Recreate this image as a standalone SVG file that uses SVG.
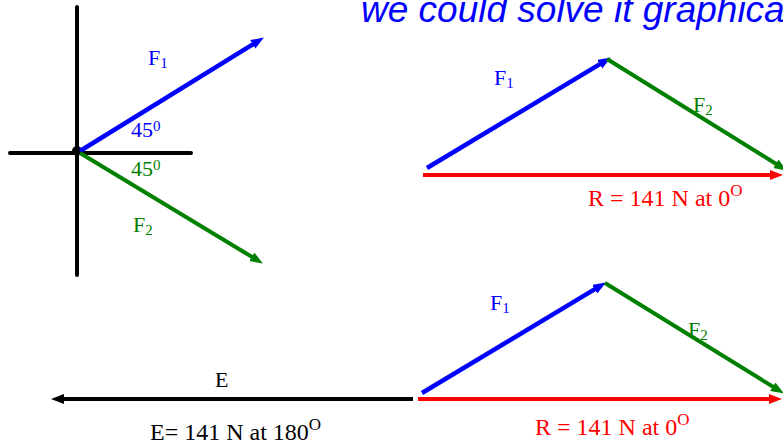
<svg xmlns="http://www.w3.org/2000/svg" width="783" height="445" viewBox="0 0 783 445">
<style>
.t{font-family:"Liberation Serif","Times New Roman",serif;font-size:22px}
.L{font-size:24px}
.s{font-size:15px}
.u{font-size:17px}
.b{fill:#0000ff}.g{fill:#008000}.r{fill:#ff0000}.k{fill:#000}
.ln{fill:none;stroke-linecap:butt}
</style>
<defs>
<marker id="mb" markerUnits="userSpaceOnUse" markerWidth="14" markerHeight="12" refX="6" refY="5" orient="auto"><path d="M0,0 L13,5 L0,10 z" fill="#0000ff"/></marker>
<marker id="mg" markerUnits="userSpaceOnUse" markerWidth="14" markerHeight="12" refX="6" refY="5" orient="auto"><path d="M0,0 L13,5 L0,10 z" fill="#008000"/></marker>
<marker id="mr" markerUnits="userSpaceOnUse" markerWidth="14" markerHeight="12" refX="6" refY="5" orient="auto"><path d="M0,0 L13,5 L0,10 z" fill="#ff0000"/></marker>
<marker id="mk" markerUnits="userSpaceOnUse" markerWidth="14" markerHeight="12" refX="6" refY="5" orient="auto"><path d="M0,0 L13,5 L0,10 z" fill="#000"/></marker>
</defs>
<rect width="783" height="445" fill="#fff"/>
<text x="361" y="22" font-family="Liberation Sans, Arial, sans-serif" font-style="italic" font-size="37" fill="#0000ff">we could solve it graphica</text>

<g id="axes">
<line x1="77" y1="7" x2="77" y2="275" stroke="#000" stroke-width="4" stroke-linecap="round"/>
<line x1="10" y1="153" x2="191" y2="153" stroke="#000" stroke-width="4" stroke-linecap="round"/>
<circle cx="77" cy="151" r="5" fill="#000"/>
</g>

<g id="connectors">
<line class="ln" x1="80" y1="151" x2="257.9" y2="41.2" stroke="#0000ff" stroke-width="4.5" marker-end="url(#mb)"/>
<line class="ln" x1="80" y1="153" x2="256.9" y2="259.9" stroke="#008000" stroke-width="4" marker-end="url(#mg)"/>

<line class="ln" x1="423" y1="175" x2="776" y2="175" stroke="#ff0000" stroke-width="4" marker-end="url(#mr)" stroke-linecap="round"/>
<line class="ln" x1="427" y1="168" x2="604.9" y2="61.1" stroke="#0000ff" stroke-width="4.5" marker-end="url(#mb)" stroke-linecap="round"/>
<line class="ln" x1="607" y1="59" x2="781" y2="167" stroke="#008000" stroke-width="4" marker-end="url(#mg)"/>

<line class="ln" x1="413" y1="399" x2="58" y2="399" stroke="#000" stroke-width="4" marker-end="url(#mk)" stroke-linecap="round"/>
<line class="ln" x1="418" y1="399" x2="775" y2="399" stroke="#ff0000" stroke-width="4" marker-end="url(#mr)" stroke-linecap="round"/>
<line class="ln" x1="422" y1="393" x2="599.9" y2="286.1" stroke="#0000ff" stroke-width="4.5" marker-end="url(#mb)" stroke-linecap="round"/>
<line class="ln" x1="605" y1="283" x2="777.9" y2="389.8" stroke="#008000" stroke-width="4" marker-end="url(#mg)"/>
</g>

<g id="labels-left">
<text class="t b" x="148" y="65">F<tspan class="s" dy="3">1</tspan></text>
<text class="t b" x="131" y="137">45<tspan class="s" dy="-6">0</tspan></text>
<text class="t g" x="131" y="176">45<tspan class="s" dy="-6">0</tspan></text>
<text class="t g" x="133" y="232">F<tspan class="s" dy="3">2</tspan></text>
</g>

<g id="labels-top">
<text class="t b" x="494" y="85">F<tspan class="s" dy="3">1</tspan></text>
<text class="t g" x="693" y="112">F<tspan class="s" dy="3">2</tspan></text>
<text class="t L r" x="588" y="206">R = 141 N at 0<tspan class="u" dy="-10">O</tspan></text>
</g>

<g id="labels-bottom">
<text class="t b" x="490" y="310">F<tspan class="s" dy="3">1</tspan></text>
<text class="t g" x="688" y="337">F<tspan class="s" dy="3">2</tspan></text>
<text class="t L r" x="535" y="435">R = 141 N at 0<tspan class="u" dy="-10">O</tspan></text>
<text class="t k" x="215" y="387">E</text>
<text class="t L k" x="150" y="440">E= 141 N at 180<tspan class="u" dy="-10">O</tspan></text>
</g>
</svg>
